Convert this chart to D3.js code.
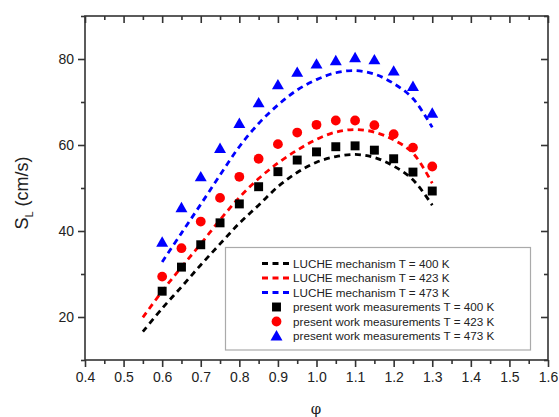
<!DOCTYPE html>
<html>
<head>
<meta charset="utf-8">
<script src="https://cdn.jsdelivr.net/npm/d3@7"></script>
<style>
  html, body { margin: 0; padding: 0; background: #fff; }
  svg { display: block; font-family: "Liberation Sans", Arial, sans-serif; }
</style>
</head>
<body>
<svg id="chart" width="559" height="417"></svg>
<script>
// Equivalence ratio grid for the measurements
const phiMeas = [0.6, 0.65, 0.7, 0.75, 0.8, 0.85, 0.9, 0.95, 1.0, 1.05, 1.1, 1.15, 1.2, 1.25, 1.3];
// Measured laminar burning velocities (cm/s)
const meas400 = [26.0, 31.6, 36.8, 41.9, 46.3, 50.3, 53.8, 56.5, 58.4, 59.6, 59.8, 58.8, 56.8, 53.7, 49.3];
const meas423 = [29.4, 36.0, 42.2, 47.7, 52.6, 56.8, 60.2, 62.9, 64.7, 65.7, 65.7, 64.6, 62.5, 59.4, 55.0];
const meas473 = [37.4, 45.4, 52.6, 59.2, 65.0, 69.8, 74.0, 76.9, 78.8, 79.6, 80.3, 79.8, 77.2, 73.6, 67.4];

// LUCHE mechanism predictions
const phiModel = [0.55, 0.6, 0.65, 0.7, 0.75, 0.8, 0.85, 0.9, 0.95, 1.0, 1.05, 1.1, 1.15, 1.2, 1.25, 1.3];
const model400 = [16.6, 22.0, 27.0, 32.1, 37.0, 41.8, 46.0, 50.3, 53.6, 56.0, 57.3, 57.8, 57.1, 55.1, 51.9, 46.0];
const model423 = [19.9, 26.0, 31.6, 37.0, 42.6, 47.8, 52.2, 55.8, 58.8, 61.3, 63.0, 63.6, 63.0, 61.2, 58.1, 51.1];
const phiModel473 = [0.6, 0.65, 0.7, 0.75, 0.8, 0.85, 0.9, 0.95, 1.0, 1.05, 1.1, 1.15, 1.2, 1.25, 1.3];
const model473 = [32.8, 39.5, 46.2, 53.0, 59.6, 65.0, 69.3, 72.8, 75.2, 76.8, 77.3, 76.5, 74.3, 70.8, 64.1];

// Axis ticks
const xTicks = [0.4, 0.5, 0.6, 0.7, 0.8, 0.9, 1.0, 1.1, 1.2, 1.3, 1.4, 1.5, 1.6];
const xMinor = [0.45, 0.55, 0.65, 0.75, 0.85, 0.95, 1.05, 1.15, 1.25, 1.35, 1.45, 1.55];
const yTicks = [20, 40, 60, 80];
const yMinor = [10, 30, 50, 70, 90];

const legendLabels = [
  "LUCHE mechanism T = 400 K",
  "LUCHE mechanism T = 423 K",
  "LUCHE mechanism T = 473 K",
  "present work measurements T = 400 K",
  "present work measurements T = 423 K",
  "present work measurements T = 473 K"
];
const colors = ["#000000", "#ff0000", "#0000ff"];

const svg = d3.select("#chart");
const m = { left: 85, right: 548, top: 16, bottom: 360 };

const x = d3.scaleLinear().domain([0.4, 1.6]).range([m.left, m.right]);
const y = d3.scaleLinear().domain([10, 90]).range([m.bottom, m.top]);

const axisColor = "#333";
const axisWidth = 1.6;

// Frame
svg.append("rect")
  .attr("x", m.left).attr("y", m.top)
  .attr("width", m.right - m.left).attr("height", m.bottom - m.top)
  .attr("fill", "none").attr("stroke", axisColor).attr("stroke-width", axisWidth);

function styleAxis(g) {
  g.select(".domain").remove();
  g.selectAll(".tick line").attr("stroke", axisColor).attr("stroke-width", axisWidth);
  g.selectAll(".tick text").attr("fill", "#222").style("font-size", "14px")
    .style("font-family", "'Liberation Sans', Arial, sans-serif");
}

// Bottom axis (outward ticks)
svg.append("g").attr("transform", `translate(0,${m.bottom})`)
  .call(d3.axisBottom(x).tickValues(xTicks).tickFormat(d3.format(".1f")).tickSize(7).tickPadding(5))
  .call(styleAxis);
svg.append("g").attr("transform", `translate(0,${m.bottom})`)
  .call(d3.axisBottom(x).tickValues(xMinor).tickFormat("").tickSize(4))
  .call(styleAxis);

// Top axis (inward ticks)
svg.append("g").attr("transform", `translate(0,${m.top})`)
  .call(d3.axisBottom(x).tickValues(xTicks).tickFormat("").tickSize(7))
  .call(styleAxis);
svg.append("g").attr("transform", `translate(0,${m.top})`)
  .call(d3.axisBottom(x).tickValues(xMinor).tickFormat("").tickSize(4))
  .call(styleAxis);

// Left axis (outward ticks)
svg.append("g").attr("transform", `translate(${m.left},0)`)
  .call(d3.axisLeft(y).tickValues(yTicks).tickFormat(d3.format("d")).tickSize(7).tickPadding(4))
  .call(styleAxis);
svg.append("g").attr("transform", `translate(${m.left},0)`)
  .call(d3.axisLeft(y).tickValues(yMinor).tickFormat("").tickSize(4))
  .call(styleAxis);

// Right axis (inward ticks)
svg.append("g").attr("transform", `translate(${m.right},0)`)
  .call(d3.axisLeft(y).tickValues(yTicks).tickFormat("").tickSize(7))
  .call(styleAxis);
svg.append("g").attr("transform", `translate(${m.right},0)`)
  .call(d3.axisLeft(y).tickValues(yMinor).tickFormat("").tickSize(4))
  .call(styleAxis);

// Axis titles
const yTitle = svg.append("text")
  .attr("transform", "translate(28,193) rotate(-90)")
  .attr("text-anchor", "middle")
  .attr("fill", "#222")
  .style("font-size", "18px");
yTitle.append("tspan").text("S");
yTitle.append("tspan").attr("dy", 5).style("font-size", "11px").text("L");
yTitle.append("tspan").attr("dy", -5).text(" (cm/s)");

svg.append("text")
  .attr("x", (m.left + m.right) / 2 - 0.5).attr("y", 414)
  .attr("text-anchor", "middle")
  .attr("fill", "#222")
  .style("font-size", "15px")
  .style("font-family", "'DejaVu Serif', serif")
  .text("φ");

// Model curves
const line = d3.line().x(d => x(d[0])).y(d => y(d[1])).curve(d3.curveCatmullRom);
const models = [
  d3.zip(phiModel, model400),
  d3.zip(phiModel, model423),
  d3.zip(phiModel473, model473)
];
models.forEach((pts, i) => {
  svg.append("path")
    .datum(pts)
    .attr("d", line)
    .attr("fill", "none")
    .attr("stroke", colors[i])
    .attr("stroke-width", 2.8)
    .attr("stroke-dasharray", "6,4.5");
});

// Measurement symbols
const symSquare = d3.symbol().type(d3.symbolSquare).size(80);
const symCircle = d3.symbol().type(d3.symbolCircle).size(75);
const symTriangle = d3.symbol().type(d3.symbolTriangle).size(62);
const symbols = [symSquare, symCircle, symTriangle];
const measSets = [meas400, meas423, meas473];

measSets.forEach((vals, i) => {
  svg.append("g").selectAll("path")
    .data(d3.zip(phiMeas, vals))
    .join("path")
    .attr("transform", d => `translate(${x(d[0])},${y(d[1]) + (i === 2 ? 1 : 0)})`)
    .attr("d", symbols[i]())
    .attr("fill", colors[i]);
});

// Legend
const lg = svg.append("g");
lg.append("rect")
  .attr("x", 225.5).attr("y", 247.5)
  .attr("width", 305).attr("height", 102.5)
  .attr("fill", "#fff").attr("stroke", "#aaa").attr("stroke-width", 1.2);

const rowY = i => 263.5 + i * 14.5;
legendLabels.forEach((lab, i) => {
  const cy = rowY(i);
  if (i < 3) {
    lg.append("line")
      .attr("x1", 262).attr("x2", 291)
      .attr("y1", cy).attr("y2", cy)
      .attr("stroke", colors[i]).attr("stroke-width", 2.8)
      .attr("stroke-dasharray", "6,4.5");
  } else {
    const k = i - 3;
    lg.append("path")
      .attr("transform", `translate(276.5,${cy + (k === 2 ? 1 : 0)})`)
      .attr("d", symbols[k]())
      .attr("fill", colors[k]);
  }
  lg.append("text")
    .attr("x", 293).attr("y", cy + 4)
    .attr("fill", "#222")
    .style("font-size", "11.7px")
    .text(lab);
});
</script>
</body>
</html>
